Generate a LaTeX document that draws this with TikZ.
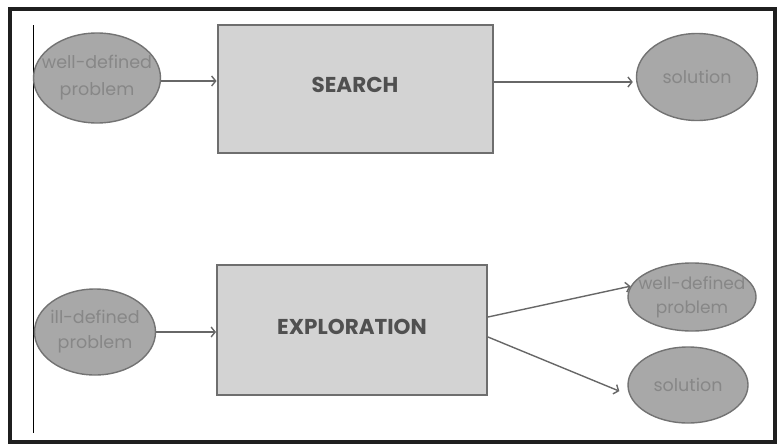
\documentclass[tikz,border=0pt]{standalone}
\usepackage{fontspec}
\setmainfont{Poppins}
\usetikzlibrary{shapes.geometric,arrows.meta}

\definecolor{ovalfill}{HTML}{A8A8A8}
\definecolor{ovaledge}{HTML}{737373}
\definecolor{ovaltext}{HTML}{878787}
\definecolor{boxfill}{HTML}{D3D3D3}
\definecolor{boxedge}{HTML}{6E6E6E}
\definecolor{boxtext}{HTML}{505050}
\definecolor{linkcolor}{HTML}{676767}

\tikzset{
  oval/.style={ellipse, draw=ovaledge, fill=ovalfill, line width=1.4pt, inner sep=0pt},
  ovaltxt/.style={text=ovaltext, inner sep=0pt, align=center, font=\fontsize{17.5}{27}\selectfont},
  taskbox/.style={rectangle, draw=boxedge, fill=boxfill, line width=2pt, inner sep=0pt},
  tasktxt/.style={text=boxtext, inner sep=0pt, font=\fontsize{21.5}{24}\selectfont\bfseries},
  link/.style={draw=linkcolor, line width=1.4pt, -{Straight Barb[length=4pt,width=10pt]}}
}

\begin{document}
\begin{tikzpicture}[x=1pt,y=-1pt]
\useasboundingbox (0,0) rectangle (778,447);

% 外框和左侧竖线
\draw[line width=4pt, draw=black!88] (10,9) rectangle (775,442);
\draw[line width=0.9pt] (33,25) -- (33,433);

% 上面一行: search
\node[oval, minimum width=127pt, minimum height=90pt,
  label={[ovaltxt]center:{well-defined\\problem}}] (wellIn) at (97,78) {};
\node[taskbox, minimum width=275pt, minimum height=128pt,
  label={[tasktxt, yshift=4pt]center:SEARCH}] (search) at (355,89) {};
\node[oval, minimum width=121pt, minimum height=87pt,
  label={[ovaltxt]center:solution}] (solTop) at (697,77) {};

\draw[link] ([yshift=-3pt]wellIn.east) -- ([yshift=-3pt]wellIn.east -| search.west);
\draw[link] ([yshift=-5pt]search.east |- solTop.west) -- ([xshift=-3pt, yshift=-5pt]solTop.west);

% 下面一行: exploration
\node[oval, minimum width=121pt, minimum height=86pt,
  label={[ovaltxt, font=\fontsize{17.5}{25}\selectfont]center:{ill-defined\\problem}}] (illIn) at (95,332) {};
\node[taskbox, minimum width=270pt, minimum height=130pt,
  label={[tasktxt, yshift=3pt]center:EXPLORATION}] (explore) at (352,330) {};
\node[oval, minimum width=128pt, minimum height=68pt,
  label={[ovaltxt, font=\fontsize{17}{24}\selectfont]center:{well-defined\\problem}}] (wellOut) at (692,297) {};
\node[oval, minimum width=120pt, minimum height=76pt,
  label={[ovaltxt]center:solution}] (solBot) at (688,385) {};

\draw[link] (illIn.east) -- (illIn.east -| explore.west);
\draw[link] ([yshift=13pt]explore.east) -- (wellOut.170);
\draw[link, shorten >=11pt] ([yshift=-7pt]explore.east) -- (solBot.190);

\end{tikzpicture}
\end{document}
